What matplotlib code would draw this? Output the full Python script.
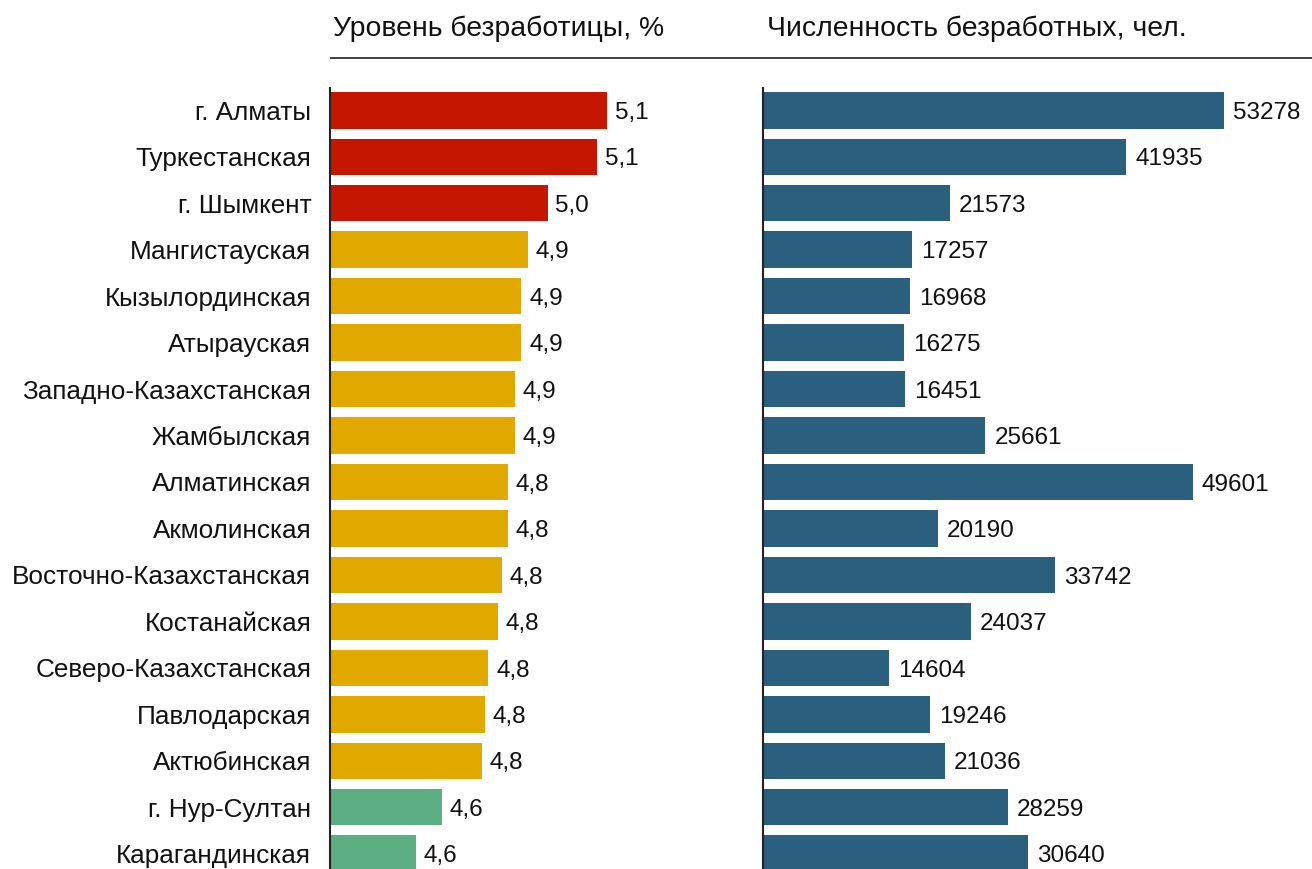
import matplotlib
matplotlib.use("Agg")
import matplotlib.pyplot as plt
from matplotlib.lines import Line2D

plt.rcParams['font.family'] = ['Liberation Sans', 'DejaVu Sans']

regions = ["г. Алматы", "Туркестанская", "г. Шымкент", "Мангистауская", "Кызылординская",
           "Атырауская", "Западно-Казахстанская", "Жамбылская", "Алматинская", "Акмолинская",
           "Восточно-Казахстанская", "Костанайская", "Северо-Казахстанская", "Павлодарская",
           "Актюбинская", "г. Нур-Султан", "Карагандинская"]
rate = [5.14, 5.11, 4.96, 4.90, 4.88, 4.88, 4.86, 4.86, 4.84, 4.84, 4.82, 4.81, 4.78, 4.77,
        4.76, 4.64, 4.56]
unemployed = [53278, 41935, 21573, 17257, 16968, 16275, 16451, 25661, 49601, 20190, 33742,
              24037, 14604, 19246, 21036, 28259, 30640]
groups = ["high"] * 3 + ["mid"] * 12 + ["low"] * 2

group_colors = {"high": "#C41600", "mid": "#E1A900", "low": "#5BAF82"}
blue = "#2B5F7E"

W, H = 1312, 869
fig = plt.figure(figsize=(W / 100, H / 100), dpi=100)

top_px = 88
ax_bottom = 0.0
ax_height = 1 - top_px / H

axL = fig.add_axes([330 / W, ax_bottom, (700 - 330) / W, ax_height])
axR = fig.add_axes([763 / W, ax_bottom, (1312 - 763) / W, ax_height])

y = list(range(len(regions)))
bar_h = 0.785
fs_tick = 18.8
fs_val = 17.5
val_dy = -0.716 * fs_val / 2

colsL = [group_colors[g] for g in groups]
axL.barh(y, [r - 4.3 for r in rate], left=4.3, height=bar_h, color=colsL)
axL.set_xlim(4.3, 4.3 + 370 / 330)
for yi, r in zip(y, rate):
    axL.annotate(f"{r:.1f}".replace(".", ","), (r, yi), xytext=(5.5, val_dy),
                 textcoords="offset points", va="baseline", ha="left", fontsize=fs_val,
                 color="#111")

axR.barh(y, unemployed, height=bar_h, color=blue)
axR.set_xlim(0, 549 / 0.00866)
for yi, u in zip(y, unemployed):
    axR.annotate(f"{u}", (u, yi), xytext=(6.5, val_dy), textcoords="offset points",
                 va="baseline", ha="left", fontsize=fs_val, color="#111")

for ax in (axL, axR):
    ax.set_ylim(16.33, -0.48)
    for s in ("top", "right", "bottom"):
        ax.spines[s].set_visible(False)
    ax.spines["left"].set_color("#222")
    ax.spines["left"].set_linewidth(1.5)
    ax.set_xticks([])

axL.set_yticks(y)
axL.set_yticklabels(regions, fontsize=fs_tick, color="#111")
axL.tick_params(axis="y", length=0, pad=13.5)
axR.set_yticks([])

fig.text(333 / W, 1 - 36 / H, "Уровень безработицы, %", fontsize=20.4, color="#111",
         ha="left", va="baseline")
fig.text(767 / W, 1 - 36 / H, "Численность безработных, чел.", fontsize=20.4, color="#111",
         ha="left", va="baseline")
fig.add_artist(Line2D([331 / W, 1.0], [1 - 58 / H, 1 - 58 / H], color="#333", lw=1.3))

fig.savefig("out.png", dpi=100)
